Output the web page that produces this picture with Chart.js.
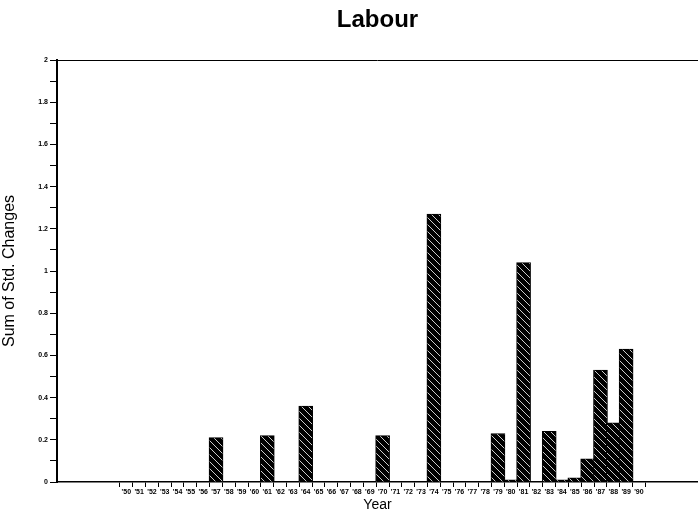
<!DOCTYPE html>
<html>
<head>
<meta charset="utf-8">
<script src="https://cdn.jsdelivr.net/npm/chart.js@4/dist/chart.umd.min.js"></script>
<style>
  html, body { margin: 0; padding: 0; background: #fff; }
  #wrap { width: 698px; height: 514px; position: relative; }
</style>
</head>
<body>
<div id="wrap"><canvas id="c" width="698" height="514"></canvas></div>
<script>
// ---- data ----
const years = [1950,1951,1952,1953,1954,1955,1956,1957,1958,1959,
               1960,1961,1962,1963,1964,1965,1966,1967,1968,1969,
               1970,1971,1972,1973,1974,1975,1976,1977,1978,1979,
               1980,1981,1982,1983,1984,1985,1986,1987,1988,1989,1990];
const xTickLabels = ["'50","'51","'52","'53","'54","'55","'56","'57","'58","'59",
                     "'60","'61","'62","'63","'64","'65","'66","'67","'68","'69",
                     "'70","'71","'72","'73","'74","'75","'76","'77","'78","'79",
                     "'80","'81","'82","'83","'84","'85","'86","'87","'88","'89","'90"];
const sumStdChanges = [0,0,0,0,0,0,0,0.21,0,0,
                       0,0.22,0,0,0.36,0,0,0,0,0,
                       0.22,0,0,0,1.27,0,0,0,0,0.23,
                       0.01,1.04,0,0.24,0.01,0.02,0.11,0.53,0.28,0.63,0];
const yTickValues = [0,0.2,0.4,0.6,0.8,1,1.2,1.4,1.6,1.8,2];
const yTickLabels = ['0','0.2','0.4','0.6','0.8','1','1.2','1.4','1.6','1.8','2'];

// ---- hatch pattern ----
function hatch() {
  const s = 7;
  const p = document.createElement('canvas');
  p.width = s; p.height = s;
  const g = p.getContext('2d');
  g.fillStyle = '#000';
  g.fillRect(0, 0, s, s);
  g.strokeStyle = 'rgba(255,255,255,0.8)';
  g.lineWidth = 1;
  g.beginPath();
  g.moveTo(-1, -1); g.lineTo(s + 1, s + 1);
  g.stroke();
  return g.createPattern(p, 'repeat');
}

const topFrame = {
  id: 'topFrame',
  afterDraw(chart) {
    const a = chart.chartArea, ctx = chart.ctx;
    ctx.save();
    ctx.strokeStyle = '#000';
    ctx.lineWidth = 1;
    ctx.beginPath();
    ctx.moveTo(a.left, a.top + 0.5);
    ctx.lineTo(a.right, a.top + 0.5);
    ctx.stroke();
    ctx.restore();
  }
};

const font = "'Liberation Sans', Arial, Helvetica, sans-serif";

new Chart(document.getElementById('c'), {
  type: 'bar',
  data: {
    datasets: [{
      data: years.map((y, i) => ({ x: y, y: sumStdChanges[i] })),
      backgroundColor: hatch(),
      borderColor: '#000',
      borderWidth: 1,
      barThickness: 14
    }]
  },
  plugins: [topFrame],
  options: {
    responsive: false,
    animation: false,
    layout: { padding: { left: 0, right: 0, top: 0, bottom: 0 } },
    plugins: {
      legend: { display: false },
      tooltip: { enabled: false },
      title: {
        display: true,
        fullSize: false,
        text: 'Labour',
        color: '#000',
        font: { family: font, size: 24, weight: 'bold' },
        padding: { top: 6, bottom: 25.2 }
      }
    },
    scales: {
      x: {
        type: 'linear',
        min: 1945.2,
        max: 1994.0,
        afterBuildTicks: (scale) => { scale.ticks = years.map(v => ({ value: v })); },
        afterFit: (scale) => { scale.height = 32; },
        border: { color: '#000', width: 1.5 },
        grid: { drawOnChartArea: false, color: '#000', tickLength: 5, lineWidth: 1 },
        ticks: {
          autoSkip: false,
          maxRotation: 0,
          padding: 1,
          color: '#000',
          font: { family: font, size: 7, weight: 'bold' },
          callback: (v) => { const i = years.indexOf(v); return i >= 0 ? xTickLabels[i] : ''; }
        },
        title: {
          display: true,
          text: 'Year',
          color: '#000',
          font: { family: font, size: 14 },
          padding: { top: 0, bottom: 0 }
        }
      },
      y: {
        min: 0,
        max: 2,
        afterBuildTicks: (scale) => {
          const t = [];
          for (let i = 0; i < yTickValues.length; i++) {
            t.push({ value: yTickValues[i] });
            if (i < yTickValues.length - 1) t.push({ value: (yTickValues[i] + yTickValues[i + 1]) / 2, minor: true });
          }
          scale.ticks = t;
        },
        afterFit: (scale) => { scale.width = 57; },
        border: { color: '#000', width: 2 },
        grid: {
          drawOnChartArea: false,
          color: '#000',
          tickLength: 7,
          lineWidth: 1
        },
        ticks: {
          autoSkip: false,
          padding: 2,
          color: '#000',
          font: { family: font, size: 7, weight: 'bold' },
          callback: (v) => {
            const i = yTickValues.findIndex(t => Math.abs(t - v) < 1e-6);
            return i >= 0 ? yTickLabels[i] : '';
          }
        },
        title: {
          display: true,
          text: 'Sum of Std. Changes',
          color: '#000',
          font: { family: font, size: 16 },
          padding: { top: 0, bottom: 4 }
        }
      }
    }
  }
});
</script>
</body>
</html>
